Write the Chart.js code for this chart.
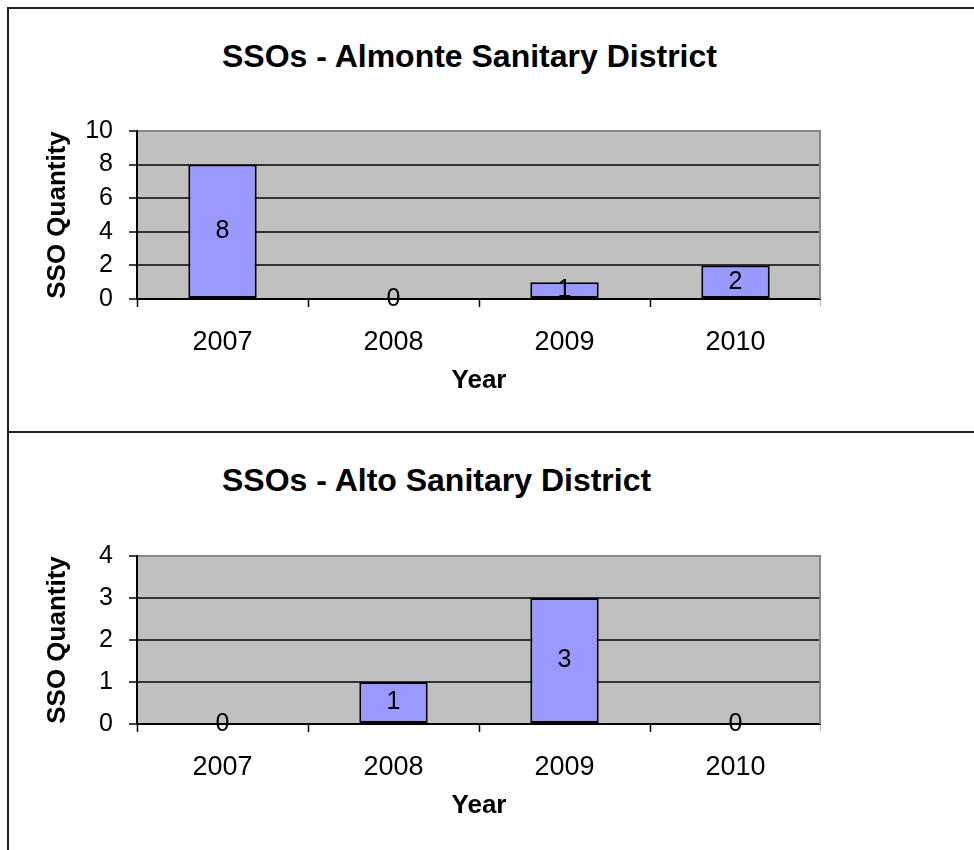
<!DOCTYPE html>
<html>
<head>
<meta charset="utf-8">
<title>SSOs by Sanitary District</title>
<script src="https://cdn.jsdelivr.net/npm/chart.js@4"></script>
<style>
  body {
    margin: 0;
    width: 974px;
    height: 850px;
    overflow: hidden;
    position: relative;
    background: #fff;
    font-family: 'Liberation Sans', Arial, sans-serif;
  }
  .frame {
    position: absolute;
    left: 7px;
    top: 7px;
    width: 1000px;
    height: 900px;
    border-left: 2px solid #222;
    border-top: 2px solid #222;
  }
  .divider {
    position: absolute;
    left: 7px;
    top: 431px;
    width: 1000px;
    height: 2px;
    background: #222;
  }
  .title {
    position: absolute;
    left: 222px;
    font-size: 32px;
    line-height: 32px;
    font-weight: bold;
    white-space: nowrap;
    color: #000;
  }
  canvas {
    position: absolute;
    left: 38px;
  }
</style>
</head>
<body>
<div class="frame"></div>
<div class="divider"></div>

<div class="title" style="top:40px">SSOs - Almonte Sanitary District</div>
<canvas id="almonte" width="783" height="300" style="top:100px"></canvas>

<div class="title" style="top:464px">SSOs - Alto Sanitary District</div>
<canvas id="alto" width="783" height="300" style="top:525px"></canvas>

<script>
const years = ['2007', '2008', '2009', '2010'];
const almonteSSOs = [8, 0, 1, 2];
const altoSSOs = [0, 1, 3, 0];
const almonteTicks = [0, 2, 4, 6, 8, 10];
const altoTicks = [0, 1, 2, 3, 4];

Chart.defaults.font.family = "'Liberation Sans', Arial, sans-serif";
Chart.defaults.color = '#000';

// grey plot area with a grey right edge, like the old spreadsheet charts
const plotBackground = {
  id: 'plotBackground',
  beforeDraw(chart) {
    const { ctx, chartArea: a } = chart;
    ctx.save();
    ctx.fillStyle = '#c0c0c0';
    ctx.fillRect(a.left, a.top, a.right - a.left, a.bottom - a.top);
    ctx.restore();
  },
  beforeDatasetsDraw(chart) {
    const { ctx, chartArea: a } = chart;
    ctx.save();
    ctx.strokeStyle = '#888';
    ctx.lineWidth = 2;
    ctx.beginPath();
    ctx.moveTo(a.right - 1, a.top);
    ctx.lineTo(a.right - 1, a.bottom);
    ctx.stroke();
    ctx.restore();
  }
};

// value written in the middle of each bar (on the axis when it is zero)
const valueLabels = {
  id: 'valueLabels',
  afterDatasetsDraw(chart) {
    const { ctx } = chart;
    const values = chart.data.datasets[0].data;
    ctx.save();
    ctx.font = "25px 'Liberation Sans', Arial, sans-serif";
    ctx.fillStyle = '#000';
    ctx.textAlign = 'center';
    ctx.textBaseline = 'middle';
    chart.getDatasetMeta(0).data.forEach((bar, i) => {
      ctx.fillText(String(values[i]), bar.x, (bar.y + bar.base) / 2);
    });
    ctx.restore();
  }
};

function makeChart(id, values, ticks) {
  const top = ticks[ticks.length - 1];
  return new Chart(document.getElementById(id), {
    type: 'bar',
    data: {
      labels: years,
      datasets: [{
        data: values,
        backgroundColor: '#9999ff',
        borderColor: '#000',
        borderWidth: 2,
        borderSkipped: false,
        barPercentage: 0.4,
        categoryPercentage: 1.0
      }]
    },
    options: {
      responsive: false,
      animation: false,
      layout: { padding: { top: 30, right: 0, bottom: 0, left: 0 } },
      plugins: {
        legend: { display: false },
        tooltip: { enabled: false }
      },
      scales: {
        x: {
          offset: true,
          grid: {
            offset: true,
            drawOnChartArea: false,
            tickLength: 8,
            tickColor: '#000',
            tickWidth: 1.5
          },
          border: { color: '#000', width: 2 },
          ticks: { font: { size: 27 }, padding: 19, maxRotation: 0, autoSkip: false },
          title: {
            display: true,
            text: 'Year',
            font: { size: 26, weight: 'bold' },
            padding: { top: 0, bottom: 4 }
          },
          // fixed axis height keeps the plot bottom where it belongs
          afterFit(scale) {
            scale.height = 101;
          }
        },
        y: {
          min: ticks[0],
          max: top,
          ticks: { stepSize: ticks[1] - ticks[0], font: { size: 25 }, padding: 16, autoSkip: false },
          grid: {
            color: (c) => (c.tick && c.tick.value === top ? '#888' : '#333'),
            lineWidth: 2,
            tickLength: 8,
            tickColor: '#000',
            tickWidth: 1.5
          },
          border: { color: '#000', width: 2 },
          title: {
            display: true,
            text: 'SSO Quantity',
            font: { size: 26, weight: 'bold' },
            padding: { top: 4, bottom: 0 }
          },
          afterFit(scale) {
            scale.width = 99;
          }
        }
      }
    },
    plugins: [plotBackground, valueLabels]
  });
}

makeChart('almonte', almonteSSOs, almonteTicks);
makeChart('alto', altoSSOs, altoTicks);
</script>
</body>
</html>
